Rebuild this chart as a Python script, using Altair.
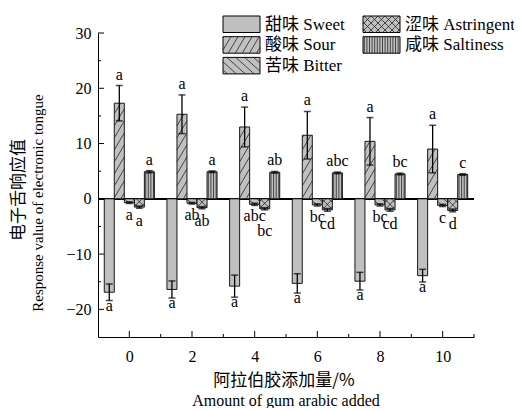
import altair as alt
import pandas as pd

# ---------------- data ----------------
amounts = [0, 2, 4, 6, 8, 10]
taste_names = ["甜味 Sweet", "酸味 Sour", "苦味 Bitter", "涩味 Astringent", "咸味 Saltiness"]

sweet = [-16.9, -16.4, -15.8, -15.3, -14.9, -13.9]
sweet_err = [1.5, 1.55, 2.0, 1.75, 1.6, 1.15]
sour = [17.3, 15.3, 13.0, 11.5, 10.4, 9.0]
sour_err = [3.2, 3.5, 3.6, 4.3, 4.3, 4.3]
bitter = [-0.7, -0.8, -1.0, -1.1, -1.1, -1.2]
bitter_err = [0.15, 0.15, 0.2, 0.2, 0.2, 0.2]
astringent = [-1.5, -1.6, -1.8, -2.0, -2.0, -2.1]
astringent_err = [0.2, 0.2, 0.2, 0.25, 0.25, 0.25]
saltiness = [4.9, 4.9, 4.8, 4.7, 4.5, 4.4]
saltiness_err = [0.2, 0.15, 0.15, 0.15, 0.15, 0.15]

sweet_sig = ["a", "a", "a", "a", "a", "a"]
sour_sig = ["a", "a", "a", "a", "a", "a"]
bitter_sig = ["a", "ab", "abc", "bc", "bc", "c"]
astringent_sig = ["a", "ab", "bc", "cd", "cd", "d"]
saltiness_sig = ["a", "a", "ab", "abc", "bc", "c"]

y_ticks = [-20, -10, 0, 10, 20, 30]
y_minor = [-15, -5, 5, 15, 25]
x_ticks = [0, 2, 4, 6, 8, 10]
x_minor = [1, 3, 5, 7, 9, 11]

# ---------------- layout / style ----------------
W, H = 376, 304
X_DOM = [-1, 11]
Y_DOM = [-25, 30]
KX = W / (X_DOM[1] - X_DOM[0])
KY = H / (Y_DOM[1] - Y_DOM[0])
GAP = 0.32
HALF = 0.16
FONT = "'Liberation Serif', 'Times New Roman', 'Noto Sans CJK SC', serif"
CJK = "'Noto Sans CJK SC', 'Liberation Serif', sans-serif"
GREY = "#c0c0c0"

# legend layout (pixels, relative to the plot's top-left corner)
LEG_X, LEG_Y = 125, -17
LEG_COL, LEG_ROW = 140, 20.7
SW_W, SW_H = 37, 16.5
LEG_GAP = 5

# hatch styles in pixel space: (kind, slope, step)
HATCH = {
    "甜味 Sweet": [],
    "酸味 Sour": [("d", 1.7, 12.0)],
    "苦味 Bitter": [("d", -0.9, 8.0)],
    "涩味 Astringent": [("d", 1.0, 7.0), ("d", -1.0, 7.0)],
    "咸味 Saltiness": [("v", 0, 2.6)],
}


def hatch_segments(w, h, style):
    segs = []
    for kind, slope, step in style:
        if kind == "v":
            u = step / 2
            while u < w:
                segs.append((u, 0.0, u, h))
                u += step
            continue
        if slope > 0:
            c, cmax = -slope * w + step / 2, h
        else:
            c, cmax = step / 2, h - slope * w
        while c < cmax:
            if slope > 0:
                u1, u2 = -c / slope, (h - c) / slope
            else:
                u1, u2 = (h - c) / slope, -c / slope
            u1, u2 = max(u1, 0.0), min(u2, w)
            if u2 - u1 > 1e-6:
                segs.append((u1, slope * u1 + c, u2, slope * u2 + c))
            c += step
    return segs


series = [
    (sweet, sweet_err, sweet_sig),
    (sour, sour_err, sour_sig),
    (bitter, bitter_err, bitter_sig),
    (astringent, astringent_err, astringent_sig),
    (saltiness, saltiness_err, saltiness_sig),
]

rows = []
for ti, (vals, errs, sigs) in enumerate(series):
    for ai, amt in enumerate(amounts):
        v, e = vals[ai], errs[ai]
        pos = amt + (ti - 2) * GAP
        rows.append(dict(taste=taste_names[ti], t=ti, amount=amt, value=v, err=e,
                         sig=sigs[ai], pos=pos, xl=pos - HALF, xr=pos + HALF,
                         lo=v - e, hi=v + e, end=(v + e) if v > 0 else (v - e),
                         longpair=len(bitter_sig[ai]) > 2))
df = pd.DataFrame(rows)

# hatch lines inside each bar, derived from bar values and the scales
hrows = []
for r in rows:
    w = (r["xr"] - r["xl"]) * KX
    h = abs(r["value"]) * KY
    ybot = min(r["value"], 0)
    for (u1, v1, u2, v2) in hatch_segments(w, h, HATCH[r["taste"]]):
        hrows.append(dict(x=r["xl"] + u1 / KX, y=ybot + v1 / KY,
                          x2=r["xl"] + u2 / KX, y2=ybot + v2 / KY))
dfh = pd.DataFrame(hrows)

# manual legend (two columns: 3 + 2 entries)
lrows, lhrows = [], []
for i, t in enumerate(taste_names):
    col, row = (0, i) if i < 3 else (1, i - 3)
    x0 = LEG_X + col * LEG_COL
    y0 = LEG_Y + row * LEG_ROW
    lrows.append(dict(taste=t, x0=x0, x1=x0 + SW_W, y0=y0, y1=y0 + SW_H,
                      tx=x0 + SW_W + LEG_GAP, ty=y0 + SW_H / 2 + 0.5))
    for (u1, v1, u2, v2) in hatch_segments(SW_W, SW_H, HATCH[t]):
        lhrows.append(dict(x=x0 + u1, y=y0 + SW_H - v1, x2=x0 + u2, y2=y0 + SW_H - v2))
dfl = pd.DataFrame(lrows)
dflh = pd.DataFrame(lhrows)

x_axis = alt.Axis(values=x_ticks, title=None, ticks=False, tickSize=0, grid=False,
                  labelFont=FONT, labelFontSize=16, labelPadding=11, labelColor="black",
                  domainColor="black", domainWidth=1, format="d")
y_axis = alt.Axis(values=y_ticks, title=None, ticks=False, tickSize=0, grid=False,
                  labelFont=FONT, labelFontSize=16, labelPadding=7, labelColor="black",
                  domainColor="black", domainWidth=1, format="d")
xs = alt.Scale(domain=X_DOM, nice=False, zero=False)
ys = alt.Scale(domain=Y_DOM, nice=False, zero=False)


def X(f):
    return alt.X(f, type="quantitative", scale=xs, axis=x_axis)


def Y(f):
    return alt.Y(f, type="quantitative", scale=ys, axis=y_axis)


def PX(f):
    return alt.X(f, type="quantitative", scale=None, axis=None)


def PY(f):
    return alt.Y(f, type="quantitative", scale=None, axis=None)


base = alt.Chart(df)

zero = base.mark_rule(color="black", strokeWidth=1).encode(y=alt.datum(0))

bars = base.mark_bar(color=GREY, stroke="black", strokeWidth=0.9).encode(
    x=X("xl"), x2="xr", y=Y("value"), y2=alt.datum(0))

hatch = alt.Chart(dfh).mark_rule(color="#222222", strokeWidth=0.8).encode(
    x=X("x"), x2="x2", y=Y("y"), y2="y2")

whisk = base.mark_rule(color="black", strokeWidth=1.3).encode(x=X("pos"), y=Y("lo"), y2="hi")
cap_lo = base.mark_tick(color="black", orient="horizontal", size=7, thickness=1.5).encode(
    x=X("pos"), y=Y("lo"))
cap_hi = base.mark_tick(color="black", orient="horizontal", size=7, thickness=1.5).encode(
    x=X("pos"), y=Y("hi"))

txt = dict(font=FONT, fontSize=16, color="black", align="center", baseline="alphabetic")
lab_pos = base.transform_filter("datum.value > 0").mark_text(dy=-6, **txt).encode(
    x=X("pos"), y=Y("end"), text="sig:N")
lab_sweet = base.transform_filter("datum.t == 0").mark_text(dy=10, **txt).encode(
    x=X("pos"), y=Y("end"), text="sig:N")
lab_bitter = base.transform_filter("datum.t == 2").mark_text(dy=16, **txt).encode(
    x=X("pos"), y=Y("end"), text="sig:N")
lab_astr = base.transform_filter("datum.t == 3 && !datum.longpair").mark_text(dy=17.5, **txt).encode(
    x=X("pos"), y=Y("end"), text="sig:N")
lab_astr2 = base.transform_filter("datum.t == 3 && datum.longpair").mark_text(dy=26, **txt).encode(
    x=X("pos"), y=Y("end"), text="sig:N")

# legend marks
leg_box = alt.Chart(dfl).mark_rect(color=GREY, stroke="black", strokeWidth=1).encode(
    x=PX("x0"), x2="x1", y=PY("y0"), y2="y1")
leg_hatch = alt.Chart(dflh).mark_rule(color="#222222", strokeWidth=0.8).encode(
    x=PX("x"), x2="x2", y=PY("y"), y2="y2")
leg_text = alt.Chart(dfl).mark_text(font=FONT, fontSize=17, color="black", align="left",
                                    baseline="middle").encode(
    x=PX("tx"), y=PY("ty"), text="taste:N")

# inward ticks
yt_major = alt.Chart(pd.DataFrame({"v": y_ticks})).mark_rule(color="black").encode(
    y=Y("v"), x=alt.value(0), x2=alt.value(6))
yt_minor = alt.Chart(pd.DataFrame({"v": y_minor})).mark_rule(color="black").encode(
    y=Y("v"), x=alt.value(0), x2=alt.value(3))
xt_major = alt.Chart(pd.DataFrame({"v": x_ticks})).mark_rule(color="black").encode(
    x=X("v"), y=alt.value(H), y2=alt.value(H - 6))
xt_minor = alt.Chart(pd.DataFrame({"v": x_minor})).mark_rule(color="black").encode(
    x=X("v"), y=alt.value(H), y2=alt.value(H - 3))

one = alt.Chart(pd.DataFrame({"k": [0]}))
t_y_cn = one.mark_text(text="电子舌响应值", font=CJK, fontSize=17, angle=270,
                       align="center", baseline="middle", color="black").encode(
    x=alt.value(-79), y=alt.value(157))
t_y_en = one.mark_text(text="Response value of electronic tongue", font=FONT, fontSize=15,
                       angle=270, align="center", baseline="middle", color="black").encode(
    x=alt.value(-60), y=alt.value(170))
t_x_cn = one.mark_text(text="阿拉伯胶添加量/%", font=CJK, fontSize=17,
                       align="center", baseline="middle", color="black").encode(
    x=alt.value(186), y=alt.value(348))
t_x_en = one.mark_text(text="Amount of gum arabic added", font=FONT, fontSize=16,
                       align="center", baseline="middle", color="black").encode(
    x=alt.value(188), y=alt.value(368))

chart = alt.layer(
    zero, bars, hatch, whisk, cap_lo, cap_hi,
    lab_pos, lab_sweet, lab_bitter, lab_astr, lab_astr2,
    yt_major, yt_minor, xt_major, xt_minor,
    leg_box, leg_hatch, leg_text,
    t_y_cn, t_y_en, t_x_cn, t_x_en,
).properties(
    width=W, height=H,
    autosize=alt.AutoSizeParams(type="none"),
    padding={"left": 90, "top": 25, "right": 40, "bottom": 71},
    background="white",
).configure_view(stroke=None)

chart.save("out.html", embed_options={"renderer": "svg", "actions": False})
